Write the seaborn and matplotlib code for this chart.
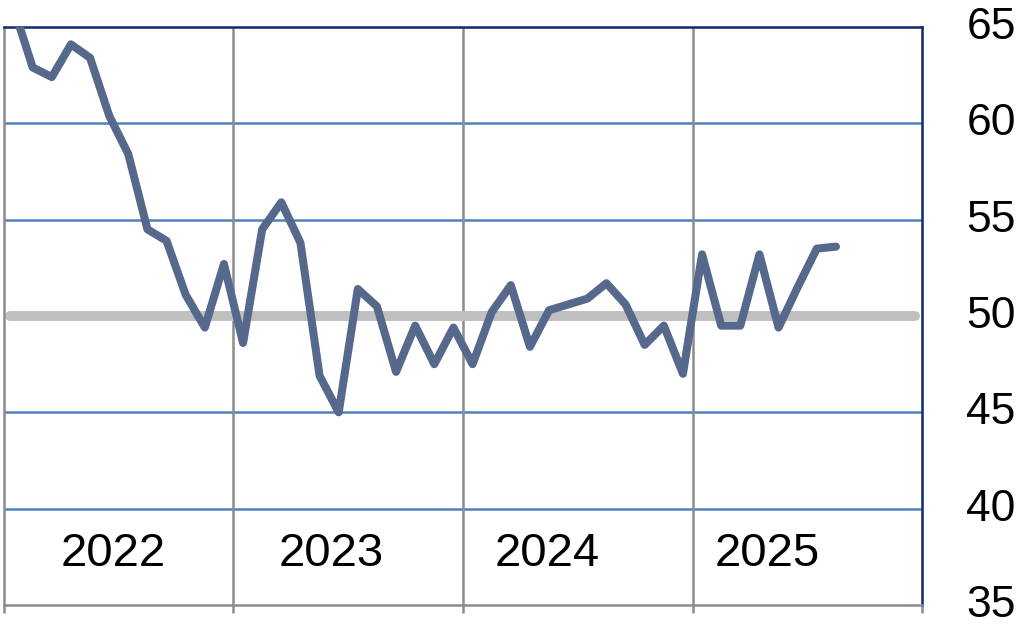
import numpy as np
import pandas as pd
from matplotlib import pyplot as plt
from matplotlib.transforms import ScaledTranslation
import seaborn as sns

# monthly index values, Jan 2022 - Aug 2025
values_2022 = [66.0, 62.9, 62.4, 64.1, 63.4, 60.4, 58.4, 54.5, 53.9, 51.1, 49.4, 52.7]
values_2023 = [48.6, 54.5, 55.9, 53.8, 46.9, 45.0, 51.4, 50.5, 47.1, 49.5, 47.5, 49.4]
values_2024 = [47.5, 50.2, 51.6, 48.4, 50.3, 50.6, 50.9, 51.7, 50.6, 48.5, 49.5, 47.0]
values_2025 = [53.2, 49.5, 49.5, 53.2, 49.4, 51.5, 53.5, 53.6]
years = ["2022", "2023", "2024", "2025"]
y_ticks = [35, 40, 45, 50, 55, 60, 65]

values = values_2022 + values_2023 + values_2024 + values_2025
data = pd.DataFrame({"month": np.arange(len(values)), "value": values})

sns.set_style("white")
plt.rcParams['font.family'] = ['Liberation Sans', 'DejaVu Sans']

fig = plt.figure(figsize=(10.24, 6.25), dpi=100)
ax = fig.add_axes([0.0039, 0.032, 0.8965, 0.9248])

# grid lines
for y in [40, 45, 55, 60]:
    ax.axhline(y, color='#4f81bd', lw=1.8, zorder=1)
for x in [11.5, 23.5, 35.5]:
    ax.axvline(x, color='#8c8c8c', lw=1.8, zorder=1)
# reference line at 50
ax.axhline(50, xmin=0.007, xmax=0.992, color='#c0c0c0', lw=7.2,
           solid_capstyle='round', zorder=2)

sns.lineplot(data=data, x="month", y="value", ax=ax, color='#56698c',
             lw=5.8, zorder=3)

ax.set_xlim(-0.5, 47.5)
ax.set_ylim(35, 65)

# year labels inside the plot
for pos, yr in zip([5.2, 16.6, 27.9, 39.4], years):
    ax.text(pos, 37.65, yr, ha='center', va='center', fontsize=34,
            color='black')

ax.yaxis.tick_right()
ax.set_yticks(y_ticks)
ax.tick_params(axis='y', length=0, pad=32, labelsize=32, colors='black')
# nudge tick labels up a little, as in the original
shift = ScaledTranslation(0, 3 / 72, fig.dpi_scale_trans)
for lab in ax.get_yticklabels():
    lab.set_transform(lab.get_transform() + shift)
ax.set_xticks([-0.5, 11.5, 23.5, 35.5, 47.5])
ax.set_xticklabels([])
ax.tick_params(axis='x', direction='out', length=6, width=1.8,
               color='#8c8c8c', bottom=True)
ax.set_xlabel('')
ax.set_ylabel('')

ax.spines['top'].set_color('#0d2a6e')
ax.spines['right'].set_color('#0d2a6e')
ax.spines['left'].set_color('#8c8c8c')
ax.spines['bottom'].set_color('#8c8c8c')
for s in ax.spines.values():
    s.set_linewidth(1.8)
    s.set_visible(True)

plt.savefig('out.png', dpi=100)
